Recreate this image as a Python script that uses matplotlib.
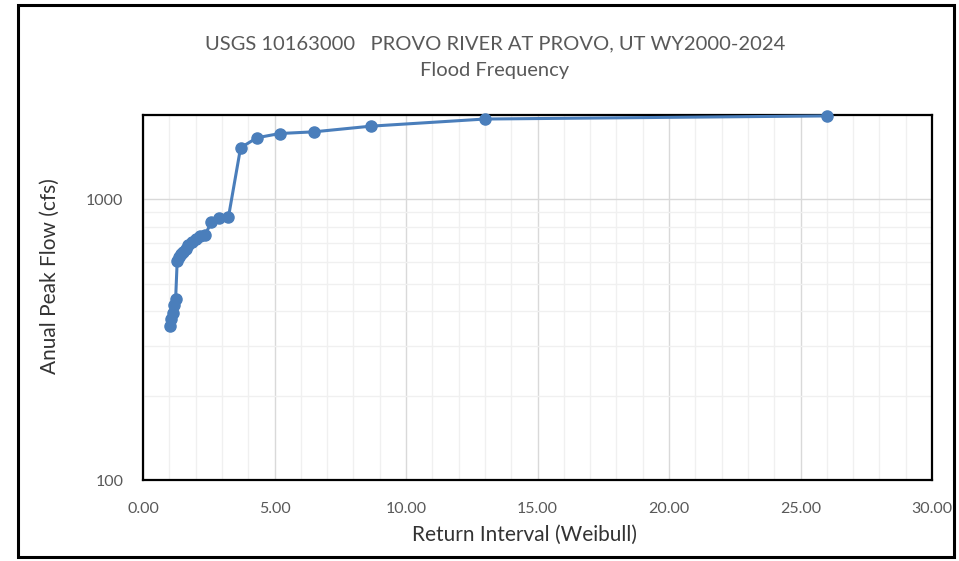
import matplotlib
matplotlib.use('Agg')
import matplotlib.pyplot as plt
from matplotlib.patches import Rectangle
from matplotlib.ticker import FixedLocator, FuncFormatter, NullFormatter

plt.rcParams['font.family'] = ['Lato', 'DejaVu Sans']

# Weibull return interval (n = 25, WY2000-2024) and annual peak flow
return_interval = [26.0, 13.0, 8.67, 6.5, 5.2, 4.33, 3.71, 3.25, 2.89, 2.6,
                   2.36, 2.17, 2.0, 1.86, 1.73, 1.625, 1.53, 1.44, 1.37, 1.3,
                   1.24, 1.18, 1.13, 1.08, 1.04]
peak_flow = [1985, 1935, 1825, 1742, 1718, 1659, 1528, 866, 860, 830,
             748, 740, 722, 705, 690, 665, 650, 638, 625, 603,
             440, 420, 395, 375, 355]

title = "USGS 10163000   PROVO RIVER AT PROVO, UT WY2000-2024\nFlood Frequency"
xlab = "Return Interval (Weibull)"
ylab = "Anual Peak Flow (cfs)"

grey = '#595959'
fig = plt.figure(figsize=(9.59, 5.61), dpi=100)
ax = fig.add_axes([143/959, 81/561, 789/959, 365/561])

ax.set_yscale('log')
ax.set_xlim(0, 30)
ax.set_ylim(100, 2000)

ax.xaxis.set_major_locator(FixedLocator([0, 5, 10, 15, 20, 25, 30]))
ax.xaxis.set_minor_locator(FixedLocator([i for i in range(31) if i % 5]))
ax.xaxis.set_major_formatter(FuncFormatter(lambda v, p: '%.2f' % v))
ax.yaxis.set_major_locator(FixedLocator([100, 1000]))
ax.yaxis.set_minor_locator(FixedLocator([200, 300, 400, 500, 600, 700, 800, 900, 2000]))
ax.yaxis.set_major_formatter(FuncFormatter(lambda v, p: '%d' % v))
ax.yaxis.set_minor_formatter(NullFormatter())

ax.grid(which='major', color='#d9d9d9', lw=1.0)
ax.grid(which='minor', color='#f0f0f0', lw=1.0)
ax.set_axisbelow(True)
ax.tick_params(which='both', length=0, colors=grey, labelsize=11.5)
ax.tick_params(axis='x', pad=16)
ax.tick_params(axis='y', pad=14)
for s in ax.spines.values():
    s.set_color('black')
    s.set_linewidth(1.6)

ax.plot(return_interval, peak_flow, color='#4a7ebb', lw=2.2,
        marker='o', markersize=8, zorder=3, clip_on=False)

fig.text(495/959, 1 - 57/561, title, ha='center', va='center',
         fontsize=14.5, color=grey, linespacing=1.7)
fig.text(524/959, 1 - 535/561, xlab, ha='center', va='center',
         fontsize=15, color='#333333')
fig.text(50/959, 1 - 276/561, ylab, ha='center', va='center',
         rotation=90, fontsize=15, color='#333333')

fig.patches.append(Rectangle((18/959, 4/561), 936/959, 552/561,
                             transform=fig.transFigure, fill=False,
                             edgecolor='black', lw=2.2))

fig.savefig('out.png', dpi=100)
